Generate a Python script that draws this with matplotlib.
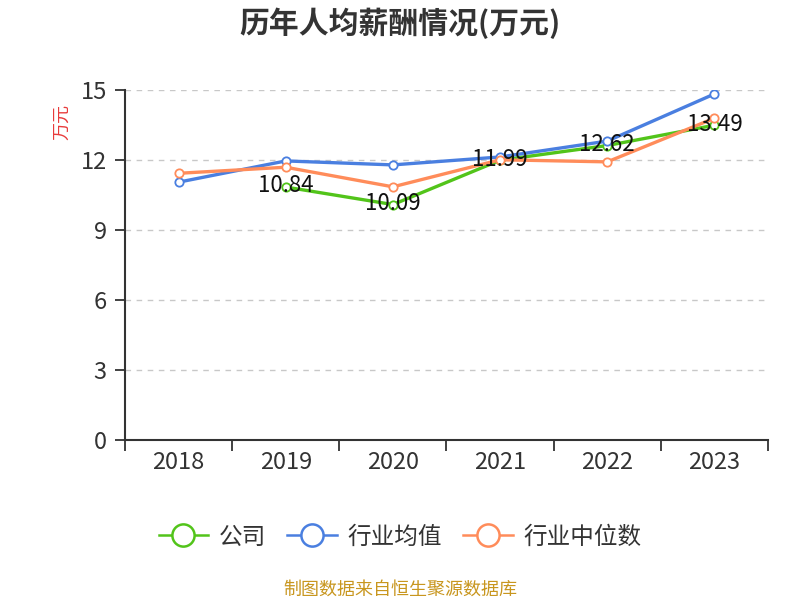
import numpy as np
import matplotlib.pyplot as plt
from matplotlib.lines import Line2D

plt.rcParams['font.family'] = ['Noto Sans CJK SC', 'DejaVu Sans']

years = ['2018', '2019', '2020', '2021', '2022', '2023']
company = [np.nan, 10.84, 10.09, 11.99, 12.62, 13.49]
industry_mean = [11.05, 11.96, 11.79, 12.13, 12.81, 14.83]
industry_median = [11.43, 11.69, 10.85, 12.01, 11.92, 13.79]
series_names = ['公司', '行业均值', '行业中位数']
colors = ['#52c41a', '#4a7fe0', '#ff8c5a']

fig = plt.figure(figsize=(8, 6), dpi=100)
ax = fig.add_axes([0.15625, 0.2667, 0.80375, 0.5833])

x = np.arange(len(years))
for vals, name, c in zip([company, industry_mean, industry_median], series_names, colors):
    ax.plot(x, vals, color=c, lw=2.4, marker='o', ms=6, mfc='white', mec=c, mew=1.3,
            zorder=3)

for xi, v in zip(x, company):
    if not np.isnan(v):
        ax.text(xi, v + 0.05, f'{v:.2f}', ha='center', va='center', fontsize=16,
                color='#111111', zorder=4)

ax.set_xlim(-0.5, len(years) - 0.5)
ax.set_ylim(0, 15)
ax.set_yticks(np.arange(0, 16, 3))
ax.yaxis.grid(True, ls=(0, (4, 4)), color='#c8c8c8', lw=1)
ax.set_axisbelow(True)

ax.set_xticks(np.arange(-0.5, len(years), 1))
ax.set_xticklabels([])
ax.set_xticks(x, minor=True)
ax.set_xticklabels(years, minor=True)
ax.tick_params(axis='x', which='major', length=8, width=1.3, color='#333333')
ax.tick_params(axis='x', which='minor', length=0, pad=8, labelsize=17, labelcolor='#333333')
ax.tick_params(axis='y', length=7, width=1.3, color='#333333', labelsize=17,
               labelcolor='#333333', pad=6)

for sp in ['top', 'right']:
    ax.spines[sp].set_visible(False)
for sp in ['left', 'bottom']:
    ax.spines[sp].set_color('#333333')
    ax.spines[sp].set_linewidth(1.5)

fig.text(0.5, 0.962, '历年人均薪酬情况(万元)', ha='center', va='center',
         fontsize=21.5, fontweight='bold', color='#333333')
fig.text(0.078, 0.797, '万元', ha='center', va='center', rotation=90,
         fontsize=13, color='#e83a3a')

handles = [Line2D([], [], color=c, lw=1.8, marker='o', ms=16, mfc='white', mec=c, mew=1.8)
           for c in colors]
leg = fig.legend(handles, series_names, loc='center', bbox_to_anchor=(0.5, 0.105), ncol=3,
                 frameon=False, fontsize=17, handlelength=2.1, columnspacing=0.9,
                 handletextpad=0.45)
for t in leg.get_texts():
    t.set_color('#333333')

fig.text(0.5, 0.017, '制图数据来自恒生聚源数据库', ha='center', va='center',
         fontsize=13, color='#c8961e')

fig.savefig('out.png', dpi=100)
